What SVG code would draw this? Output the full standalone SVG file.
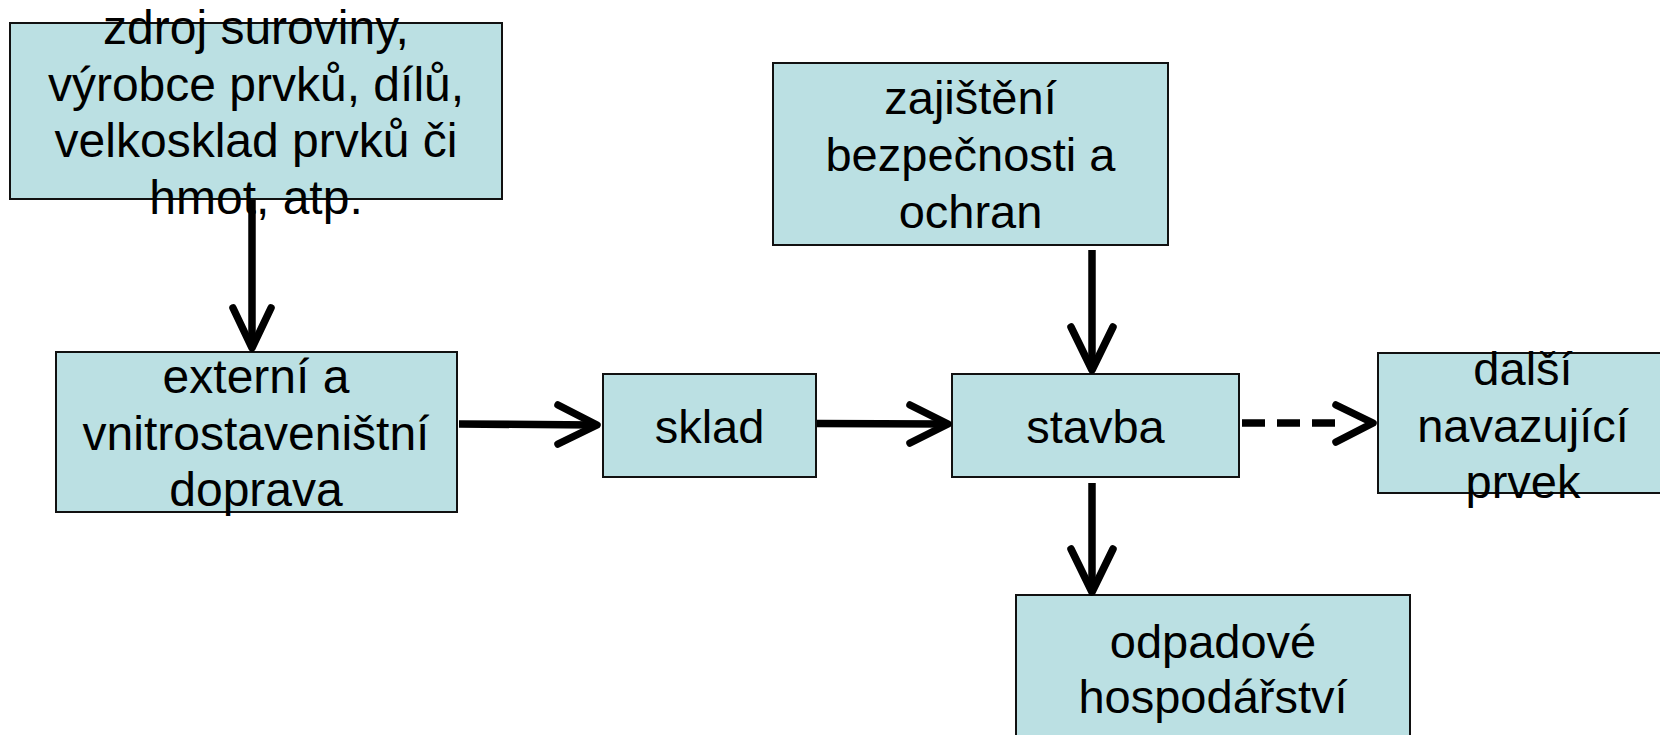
<svg xmlns="http://www.w3.org/2000/svg" width="1660" height="735" viewBox="0 0 1660 735">
  <style>
    .box { fill: #BBE0E3; stroke: #111; stroke-width: 2; }
    .lbl { font-family: "Liberation Sans", Arial, sans-serif; font-size: 47px; fill: #000; text-anchor: middle; }
    .big { font-size: 48px; }
    .wire { fill: none; stroke: #000; stroke-width: 7.5; }
    .dash { stroke-dasharray: 23 12; }
    .head { fill: none; stroke: #000; stroke-width: 7.5; stroke-linecap: round; stroke-linejoin: round; }
  </style>
  <rect width="1660" height="735" fill="#fff"/>

  <g id="n-zdroj">
    <rect class="box" x="10" y="23" width="492" height="176"/>
    <text class="lbl big" x="256" y="44">zdroj suroviny,</text>
    <text class="lbl big" x="256" y="100.5">výrobce prvků, dílů,</text>
    <text class="lbl big" x="256" y="157">velkosklad prvků či</text>
    <text class="lbl big" x="256" y="213.5">hmot, atp.</text>
  </g>

  <g id="n-doprava">
    <rect class="box" x="56" y="352" width="401" height="160"/>
    <text class="lbl big" x="256" y="393">externí a</text>
    <text class="lbl big" x="256" y="450">vnitrostaveništní</text>
    <text class="lbl big" x="256" y="506">doprava</text>
  </g>

  <g id="n-sklad">
    <rect class="box" x="603" y="374" width="213" height="103"/>
    <text class="lbl" x="709.5" y="443">sklad</text>
  </g>

  <g id="n-bezpecnost">
    <rect class="box" x="773" y="63" width="395" height="182"/>
    <text class="lbl" x="970.5" y="114">zajištění</text>
    <text class="lbl" x="970.5" y="171">bezpečnosti a</text>
    <text class="lbl" x="970.5" y="228">ochran</text>
  </g>

  <g id="n-stavba">
    <rect class="box" x="952" y="374" width="287" height="103"/>
    <text class="lbl" x="1095.5" y="443">stavba</text>
  </g>

  <g id="n-dalsi">
    <rect class="box" x="1378" y="353" width="292" height="140"/>
    <text class="lbl" x="1523" y="385">další</text>
    <text class="lbl" x="1523" y="441.5">navazující</text>
    <text class="lbl" x="1523" y="498">prvek</text>
  </g>

  <g id="n-odpad">
    <rect class="box" x="1016" y="595" width="394" height="160"/>
    <text class="lbl" x="1213" y="658">odpadové</text>
    <text class="lbl" x="1213" y="713">hospodářství</text>
  </g>

  <g id="connectors">
    <!-- zdroj -> doprava -->
    <line class="wire" x1="252" y1="200" x2="252" y2="346"/>
    <polyline class="head" points="233,308 252,348 271,308"/>
    <!-- doprava -> sklad -->
    <line class="wire" x1="459" y1="424" x2="595" y2="425"/>
    <polyline class="head" points="558,405 597,425 558,444"/>
    <!-- sklad -> stavba -->
    <line class="wire" x1="817" y1="423.5" x2="945" y2="424"/>
    <polyline class="head" points="910,405 948,424 910,443"/>
    <!-- bezpecnost -> stavba -->
    <line class="wire" x1="1092" y1="250" x2="1092" y2="368"/>
    <polyline class="head" points="1071,327 1092,370 1113,327"/>
    <!-- stavba -> odpad -->
    <line class="wire" x1="1092" y1="483" x2="1092" y2="590"/>
    <polyline class="head" points="1071,549 1092,592 1113,549"/>
    <!-- stavba -> dalsi (dashed) -->
    <line class="wire dash" x1="1242" y1="423" x2="1336" y2="423"/>
    <polyline class="head" points="1336,405 1373,423 1336,442"/>
  </g>
</svg>
